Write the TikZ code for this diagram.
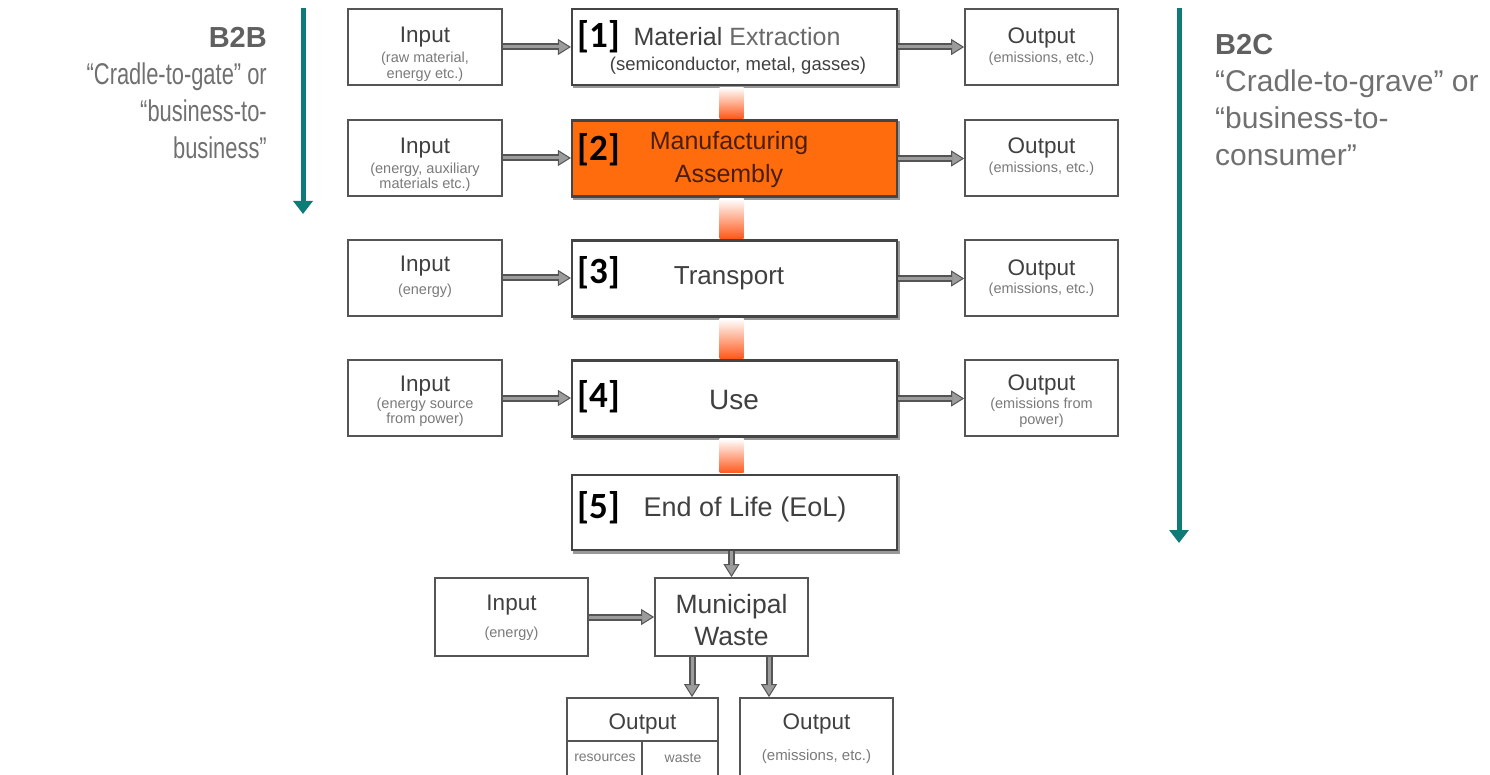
\documentclass[tikz,border=0pt]{standalone}
\usepackage{fontspec}
\setmainfont{Liberation Sans}
\newfontfamily\tagfont{Carlito}
\usetikzlibrary{arrows.meta}

\definecolor{boxline}{HTML}{555555}
\definecolor{stageline}{HTML}{454545}
\definecolor{txt}{HTML}{404040}
\definecolor{subtxt}{HTML}{7A7A7A}
\definecolor{lighttxt}{HTML}{6A6A6A}
\definecolor{mfg}{HTML}{FF6C0E}
\definecolor{mfgtxt}{HTML}{4A1E06}
\definecolor{flow}{HTML}{FF5A1E}
\definecolor{lifeteal}{HTML}{0E7B77}
\definecolor{sidetxt}{HTML}{707070}
\definecolor{sidehead}{HTML}{606060}
\definecolor{pipeedge}{HTML}{555555}
\definecolor{pipefill}{HTML}{9C9C9C}

\newcommand\setfs[2]{\fontsize{#1}{#2}\selectfont}

\begin{document}
\begin{tikzpicture}[x=1pt,y=-1pt,
  sidebox/.style 2 args={draw=boxline, line width=1.8pt, fill=white, inner sep=0pt,
    minimum width=#1, minimum height=#2},
  stagebox/.style={draw=stageline, line width=2.2pt, fill=white, inner sep=0pt,
    minimum width=325pt, minimum height=76pt,
    preaction={draw=black!40, line width=2.6pt, transform canvas={xshift=2pt,yshift=-2.2pt}}},
  head/.style={font=\setfs{22.5}{26}, text=txt, inner sep=0pt},
  note/.style={font=\setfs{14.5}{15.5}, text=subtxt, align=center, inner sep=0pt},
  main/.style={font=\setfs{25}{33}, text=txt, inner sep=0pt, align=center},
  tagtext/.style={font=\tagfont\bfseries\setfs{37}{40}, text=black, inner sep=0pt, anchor=west},
  pipe/.style={line width=7pt, draw=pipeedge,
    -{Triangle[length=13pt, width=16pt, line width=1pt, fill=pipefill]},
    postaction={draw=pipefill, line width=3pt, -, shorten >=12pt}},
  flowbar/.style={top color=white, bottom color=flow, middle color=flow!50},
  spanarrow/.style={draw=lifeteal, line width=5pt,
    -{Triangle[length=13pt, width=19pt]}},
]
\useasboundingbox (0,0) rectangle (1490,775);

% ---------- life-cycle stages ----------
\node[stagebox] (mat) at (734.5,47) {};
\node[stagebox, fill=mfg] (man) at (734.5,158.5) {};
\node[stagebox] (tra) at (734.5,278.5) {};
\node[stagebox] (use) at (734.5,398.5) {};
\node[stagebox, minimum height=75pt] (eol) at (734.5,512.5) {};

% flow between consecutive stages
\shade[flowbar] ([xshift=-15pt,yshift=-1.3pt]mat.south) rectangle ([xshift=9pt,yshift=1.3pt]man.north);
\shade[flowbar] ([xshift=-15pt,yshift=-1.3pt]man.south) rectangle ([xshift=9pt,yshift=1.3pt]tra.north);
\shade[flowbar] ([xshift=-15pt,yshift=-1.3pt]tra.south) rectangle ([xshift=9pt,yshift=1.3pt]use.north);
\shade[flowbar] ([xshift=-15pt,yshift=-1.3pt]use.south) rectangle ([xshift=9pt,yshift=1.3pt]eol.north);

% ---------- inputs and outputs ----------
\node[sidebox={154pt}{76pt}] (in1) at (425,47) {};
\node[sidebox={154pt}{76pt}] (in2) at (425,158) {};
\node[sidebox={154pt}{76pt}] (in3) at (425,278) {};
\node[sidebox={154pt}{76pt}] (in4) at (425,398) {};
\node[sidebox={153pt}{76pt}] (out1) at (1041.5,47) {};
\node[sidebox={153pt}{76pt}] (out2) at (1041.5,158) {};
\node[sidebox={153pt}{76pt}] (out3) at (1041.5,278) {};
\node[sidebox={153pt}{76pt}] (out4) at (1041.5,398) {};

\node[sidebox={153pt}{78pt}] (in5) at (511.5,617) {};
\node[sidebox={153pt}{78pt}] (mw) at (731.5,617) {};
\node[sidebox={151pt}{84pt}] (ol) at (642.5,740) {};
\node[sidebox={153pt}{84pt}] (or) at (816.5,740) {};
\draw[boxline, line width=1.4pt] ([shift={(0,44)}]ol.north west) -- ([shift={(0,44)}]ol.north east);
\draw[boxline, line width=1.4pt] ([shift={(76,44)}]ol.north west) -- ([shift={(76,44)}]ol.north west |- ol.south);

% ---------- pipes ----------
\foreach \i/\s in {1/mat,2/man,3/tra,4/use}{
  \draw[pipe] (in\i.east) -- (in\i.east -| \s.west);
  \draw[pipe] (\s.east) -- (\s.east -| out\i.west);
}
\draw[pipe] (in5.east) -- (mw.west);
\draw[pipe] (eol.south -| mw.north) -- (mw.north);
\draw[pipe] ([xshift=-39.5pt]mw.south) -- ([xshift=-39.5pt]mw.south |- ol.north);
\draw[pipe] ([xshift=37.5pt]mw.south) -- ([xshift=37.5pt]mw.south |- or.north);

% ---------- texts in the side boxes ----------
\node[head] (in1-h) at (425,37) {Input};
\node[note] (in1-n) at (425,67) {(raw material,\\energy etc.)};
\node[head] (in2-h) at (425,148) {Input};
\node[note] (in2-n) at (425,177) {(energy, auxiliary\\materials etc.)};
\node[head] (in3-h) at (425,266) {Input};
\node[note] (in3-n) at (425,291) {(energy)};
\node[head] (in4-h) at (425,386) {Input};
\node[note] (in4-n) at (425,412) {(energy source\\from power)};
\node[head] (out1-h) at (1041.5,38) {Output};
\node[note] (out1-n) at (1041.5,59) {(emissions, etc.)};
\node[head] (out2-h) at (1041.5,148) {Output};
\node[note] (out2-n) at (1041.5,169) {(emissions, etc.)};
\node[head] (out3-h) at (1041.5,270) {Output};
\node[note] (out3-n) at (1041.5,290) {(emissions, etc.)};
\node[head] (out4-h) at (1041.5,385) {Output};
\node[note] (out4-n) at (1041.5,413) {(emissions from\\power)};
\node[head] (in5-h) at (511.5,605) {Input};
\node[note] (in5-n) at (511.5,634) {(energy)};
\node[main, font=\setfs{26.5}{32}] (mw-t) at (731.5,620) {Municipal\\Waste};
\node[head] (ol-h) at (642.5,724) {Output};
\node[note, font=\setfs{14}{15}] (ol-r) at (605,758) {resources};
\node[note, font=\setfs{14}{15}] (ol-w) at (683,758) {waste};
\node[head] (or-h) at (816.5,724) {Output};
\node[note, font=\setfs{15}{16}] (or-n) at (816.5,757) {(emissions, etc.)};

% ---------- texts in the stages ----------
\node[main] (mat-t) at (737,37) {Material {\color{lighttxt}Extraction}};
\node[main, font=\setfs{18.5}{22}] (mat-n) at (738,66) {(semiconductor, metal, gasses)};
\node[main, text=mfgtxt] (man-t) at (729,160) {Manufacturing\\Assembly};
\node[main, font=\setfs{26}{30}] (tra-t) at (729,278) {Transport};
\node[main, font=\setfs{28}{32}] (use-t) at (734,400) {Use};
\node[main, font=\setfs{27}{32}] (eol-t) at (745,510) {End of Life (EoL)};

\node[tagtext] (tag1) at (577,37) {[1]};
\node[tagtext] (tag2) at (577,150) {[2]};
\node[tagtext] (tag3) at (577,273) {[3]};
\node[tagtext] (tag4) at (577,397) {[4]};
\node[tagtext] (tag5) at (577,508) {[5]};

% ---------- scope arrows and captions ----------
\coordinate (b2b-top) at (303,8);
\coordinate (b2b-end) at (303,214);
\coordinate (b2c-top) at (1179,8);
\coordinate (b2c-end) at (1179,543);
\draw[spanarrow] (b2b-top) -- (b2b-end);
\draw[spanarrow] (b2c-top) -- (b2c-end);

\node[anchor=east, align=right, inner sep=0pt, text=sidetxt, font=\setfs{30}{37}] (b2b) at (267,93)
  {{\color{sidehead}\bfseries\setfs{29}{37}B2B}\\
   \scalebox{0.73}[1]{“Cradle-to-gate” or}\\
   \scalebox{0.73}[1]{“business-to-}\\
   \scalebox{0.73}[1]{business”}};
\node[anchor=west, align=left, inner sep=0pt, text=sidetxt, font=\setfs{30}{37}] (b2c) at (1215,100)
  {{\color{sidehead}\bfseries\setfs{29}{37}B2C}\\
   “Cradle-to-grave” or\\
   “business-to-\\
   consumer”};
\end{tikzpicture}
\end{document}
